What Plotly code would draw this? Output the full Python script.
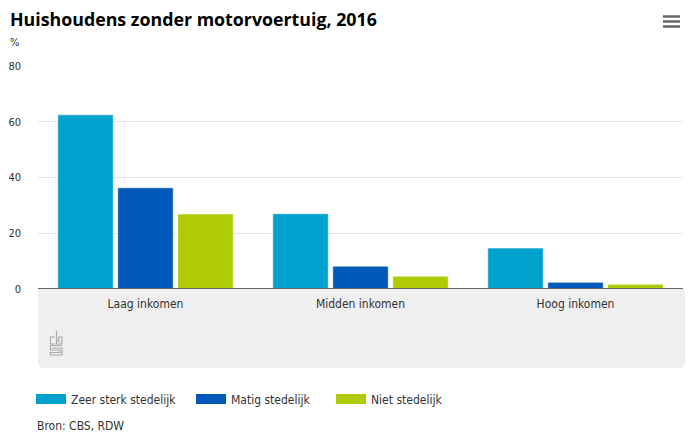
import plotly.graph_objects as go

categories = ["Laag inkomen", "Midden inkomen", "Hoog inkomen"]
series_names = ["Zeer sterk stedelijk", "Matig stedelijk", "Niet stedelijk"]
zeer_sterk = [62.5, 27.0, 14.7]
matig = [36.3, 8.2, 2.4]
niet = [26.9, 4.6, 1.7]
y_ticks = [0, 20, 40, 60, 80]
colors = ["#00A1CD", "#0058B8", "#AFCB05"]

FONT = "Liberation Sans Narrow, DejaVu Sans Condensed, sans-serif"

# page has an 8px body margin: work in page pixels and convert
O = 8
W, H = 693 - O, 437 - O
L, R, T, B = 38 - O, 10, 66 - O, 148
pw, ph = W - L - R, H - T - B

def px_x(p):
    return (p - O - L) / pw

def px_y(p):
    return (H - B - (p - O)) / ph

fig = go.Figure()
for name, vals, col in zip(series_names, [zeer_sterk, matig, niet], colors):
    fig.add_trace(go.Bar(
        x=categories, y=vals, name=name, showlegend=False,
        marker=dict(color=col, line=dict(color="rgba(255,255,255,0.6)", width=1)),
        hoverinfo="x+y",
    ))
# legend entries (wide colour swatches), one legend each for exact placement
legend_ids = ["legend", "legend2", "legend3"]
for name, col, lid in zip(series_names, colors, legend_ids):
    fig.add_trace(go.Scatter(
        x=[None], y=[None], mode="lines", name=name, legend=lid,
        line=dict(color=col, width=10), showlegend=True,
    ))

shapes = []
# gray band below axis with rounded bottom corners
x0, x1 = px_x(38), px_x(686)
y0, y1 = px_y(289), px_y(368)
rx, ry = 6 / pw, 6 / ph
path = (f"M {x0},{y0} L {x1},{y0} L {x1},{y1 + ry} Q {x1},{y1} {x1 - rx},{y1} "
        f"L {x0 + rx},{y1} Q {x0},{y1} {x0},{y1 + ry} Z")
shapes.append(dict(type="path", path=path, xref="paper", yref="paper",
                   fillcolor="#EFEFEF", line=dict(width=0), layer="below"))
# zero axis line
shapes.append(dict(type="line", xref="paper", yref="y", x0=0, x1=1, y0=0, y1=0,
                   line=dict(color="#666666", width=2), layer="above"))

# cbs logo (simplified line drawing)
def seg(pts):
    d = "M " + " L ".join(f"{px_x(a)},{px_y(b)}" for a, b in pts)
    return dict(type="path", path=d, xref="paper", yref="paper",
                line=dict(color="#AAAAAA", width=1.2))
shapes.append(seg([(55, 337), (50.5, 337), (50.5, 344), (55, 344)]))
shapes.append(seg([(56.5, 331), (56.5, 344), (62, 344), (62, 337), (58.5, 337), (58.5, 341.5), (60, 341.5)]))
shapes.append(seg([(62, 345.5), (50.5, 345.5), (50.5, 350), (60, 350), (60, 352.5), (50.5, 352.5), (50.5, 355), (62, 355), (62, 348), (52.5, 348)]))

# hamburger icon
for yy in (16.5, 21.5, 26.5):
    shapes.append(dict(type="line", xref="paper", yref="paper",
                       x0=px_x(663), x1=px_x(680), y0=px_y(yy), y1=px_y(yy),
                       line=dict(color="#666666", width=2.5)))

annotations = [
    dict(text="%", xref="paper", yref="paper", x=px_x(8), y=px_y(43),
         xanchor="left", yanchor="middle", showarrow=False,
         font=dict(family=FONT, size=11, color="#333333")),
    dict(text="Bron: CBS, RDW", xref="paper", yref="paper", x=px_x(35), y=px_y(426),
         xanchor="left", yanchor="middle", showarrow=False,
         font=dict(family=FONT, size=12, color="#333333")),
]

leg_common = dict(orientation="h", yanchor="middle", xanchor="left",
                  font=dict(family=FONT, size=12, color="#333333"),
                  itemwidth=30, bgcolor="rgba(0,0,0,0)")
swatch_starts = [38, 198, 338]

fig.update_layout(
    width=W, height=H,
    margin=dict(l=L, r=R, t=T, b=B, pad=0, autoexpand=False),
    paper_bgcolor="white", plot_bgcolor="white",
    title=dict(text="<b>Huishoudens zonder motorvoertuig, 2016</b>",
               x=(10 - O) / W, xanchor="left", y=1 - (20 - O) / H, yanchor="middle",
               font=dict(family="Open Sans, sans-serif", size=17.8, color="#000000")),
    barmode="group", bargap=0.163, bargroupgap=0.075,
    xaxis=dict(showgrid=False, showline=False, ticks="", zeroline=False,
               tickfont=dict(family=FONT, size=12, color="#333333"),
               ticklabelstandoff=6, automargin=False),
    yaxis=dict(range=[0, 80], tickvals=y_ticks, showgrid=True, gridcolor="#E6E6E6",
               gridwidth=1, zeroline=False, showline=False, ticks="",
               tickfont=dict(family=FONT, size=11, color="#333333"),
               ticklabelposition="outside", ticklabelstandoff=16, automargin=False),
    legend=dict(x=px_x(swatch_starts[0] - 7), y=px_y(399), **leg_common),
    legend2=dict(x=px_x(swatch_starts[1] - 7), y=px_y(399), **leg_common),
    legend3=dict(x=px_x(swatch_starts[2] - 7), y=px_y(399), **leg_common),
    shapes=shapes, annotations=annotations,
)

fig.write_html("out.html")
